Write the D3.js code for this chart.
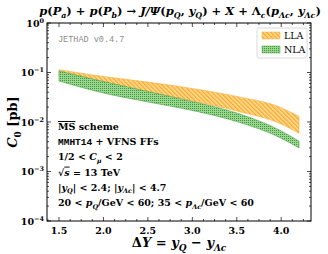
<!DOCTYPE html>
<html>
<head>
<meta charset="utf-8">
<script src="https://cdn.jsdelivr.net/npm/d3@7"></script>
<style>
  body { margin: 0; background: #fff; }
</style>
</head>
<body>
<div id="chart"></div>
<script>
// valori
var deltaY = [1.5, 2.0, 2.5, 3.0, 3.5, 4.0, 4.2];
var llaHigh = [0.114, 0.083, 0.064, 0.0475, 0.0328, 0.0195, 0.0130];
var llaLow  = [0.085, 0.0586, 0.0404, 0.0266, 0.0167, 0.0091, 0.0059];
var nlaHigh = [0.107, 0.0658, 0.0413, 0.026, 0.0152, 0.0066, 0.0041];
var nlaLow  = [0.0674, 0.0385, 0.0254, 0.0171, 0.0102, 0.0047, 0.0030];
var xTicks = [1.5, 2.0, 2.5, 3.0, 3.5, 4.0];
var yTicks = [1, 0.1, 0.01, 0.001, 0.0001];
var yTickExp = ["0", "\u22121", "\u22122", "\u22123", "\u22124"];

function drawChart() {
  var W = 328, H = 254;
  var mLeft = 47, mRight = 311, mTop = 23, mBottom = 221;
  var serif = "'DejaVu Serif', 'Liberation Serif', serif";
  var mono = "'Liberation Mono', 'DejaVu Sans Mono', monospace";

  var svg = d3.select("#chart").append("svg")
    .attr("width", W).attr("height", H)
    .attr("font-family", serif);

  var defs = svg.append("defs");
  var pLLA = defs.append("pattern").attr("id", "hatchLLA")
    .attr("patternUnits", "userSpaceOnUse").attr("width", 3).attr("height", 3)
    .attr("patternTransform", "rotate(-45)");
  pLLA.append("rect").attr("width", 3).attr("height", 3).attr("fill", "#ffdc9a");
  pLLA.append("rect").attr("width", 1.3).attr("height", 3).attr("fill", "#f7a823");

  var pNLA = defs.append("pattern").attr("id", "dotsNLA")
    .attr("patternUnits", "userSpaceOnUse").attr("width", 2).attr("height", 2);
  pNLA.append("rect").attr("width", 2).attr("height", 2).attr("fill", "#9bd58f");
  pNLA.append("rect").attr("width", 1).attr("height", 1).attr("fill", "#3c9a3c");

  var x = d3.scaleLinear().domain([1.365, 4.335]).range([mLeft, mRight]);
  var y = d3.scaleLog().domain([1e-4, 1]).range([mBottom, mTop]);

  // bande
  function band(lo, hi) {
    return d3.area()
      .x(function(d, i) { return x(deltaY[i]); })
      .y0(function(d, i) { return y(lo[i]); })
      .y1(function(d, i) { return y(hi[i]); })
      .curve(d3.curveMonotoneX)(deltaY);
  }
  svg.append("path").attr("d", band(llaLow, llaHigh))
    .attr("fill", "url(#hatchLLA)").attr("stroke", "#f7b03c").attr("stroke-width", 0.6);
  svg.append("path").attr("d", band(nlaLow, nlaHigh))
    .attr("fill", "url(#dotsNLA)").attr("stroke", "#4ea84e").attr("stroke-width", 0.6);

  // cornice e tacche
  svg.append("rect").attr("x", mLeft).attr("y", mTop)
    .attr("width", mRight - mLeft).attr("height", mBottom - mTop)
    .attr("fill", "none").attr("stroke", "#000").attr("stroke-width", 1);

  var ticks = svg.append("g").attr("stroke", "#000").attr("stroke-width", 0.7);
  d3.range(1.375, 4.34, 0.125).forEach(function(v) {
    var major = xTicks.some(function(t) { return Math.abs(t - v) < 1e-6; });
    var len = major ? 4 : 2;
    ticks.append("line").attr("x1", x(v)).attr("x2", x(v)).attr("y1", mBottom).attr("y2", mBottom - len);
    ticks.append("line").attr("x1", x(v)).attr("x2", x(v)).attr("y1", mTop).attr("y2", mTop + len);
  });
  yTicks.forEach(function(v) {
    ticks.append("line").attr("x1", mLeft).attr("x2", mLeft + 4).attr("y1", y(v)).attr("y2", y(v));
    ticks.append("line").attr("x1", mRight).attr("x2", mRight - 4).attr("y1", y(v)).attr("y2", y(v));
  });
  [1e-4, 1e-3, 1e-2, 1e-1].forEach(function(d) {
    for (var k = 2; k < 10; k++) {
      var yy = y(d * k);
      ticks.append("line").attr("x1", mLeft).attr("x2", mLeft + 2).attr("y1", yy).attr("y2", yy);
      ticks.append("line").attr("x1", mRight).attr("x2", mRight - 2).attr("y1", yy).attr("y2", yy);
    }
  });

  // testo con pedici / apici
  function rich(el, parts, fs) {
    var off = 0;
    parts.forEach(function(p) {
      var kind = p[1] || "n";
      var target = kind === "sub" ? fs * 0.28 : kind === "sup" ? -fs * 0.42 : 0;
      var ts = el.append("tspan").attr("dy", target - off).text(p[0]);
      if (kind !== "n") ts.attr("font-size", fs * 0.68);
      if (p[2]) ts.attr("font-style", p[2]);
      if (p[3]) ts.attr("font-family", p[3]);
      if (p[4]) ts.attr("text-decoration", p[4]);
      off = target;
    });
  }

  // etichette assi
  xTicks.forEach(function(v) {
    svg.append("text").attr("x", x(v)).attr("y", 234).attr("text-anchor", "middle")
      .attr("font-size", 9.5).attr("font-weight", "bold").text(v.toFixed(1));
  });
  yTicks.forEach(function(v, i) {
    var t = svg.append("text").attr("x", 44).attr("y", y(v) + 3.5).attr("text-anchor", "end")
      .attr("font-size", 9.5).attr("font-weight", "bold");
    rich(t, [["10"], [yTickExp[i], "sup"]], 9.5);
  });

  var yl = svg.append("text").attr("transform", "translate(17," + ((mTop + mBottom) / 2) + ") rotate(-90)")
    .attr("text-anchor", "middle").attr("font-size", 13).attr("font-weight", "bold");
  rich(yl, [["C", "n", "italic"], ["0", "sub"], [" [pb]"]], 13);

  var xl = svg.append("text").attr("x", (mLeft + mRight) / 2).attr("y", 247)
    .attr("text-anchor", "middle").attr("font-size", 13).attr("font-weight", "bold");
  rich(xl, [["\u0394"], ["Y", "n", "italic"], [" = "], ["y", "n", "italic"], ["Q", "sub", "italic"],
    [" \u2212 "], ["y", "n", "italic"], ["\u039bc", "sub", "italic"]], 13);

  var title = svg.append("text").attr("x", 180).attr("y", 15)
    .attr("text-anchor", "middle").attr("font-size", 11.5).attr("font-weight", "bold");
  rich(title, [["p", "n", "italic"], ["("], ["P", "n", "italic"], ["a", "sub", "italic"],
    [") + "], ["p", "n", "italic"], ["("], ["P", "n", "italic"], ["b", "sub", "italic"],
    [") \u2192 "], ["J/\u03a8", "n", "italic"], ["("], ["p", "n", "italic"], ["Q", "sub", "italic"],
    [", "], ["y", "n", "italic"], ["Q", "sub", "italic"], [") + "], ["X", "n", "italic"],
    [" + \u039b"], ["c", "sub", "italic"], ["("], ["p", "n", "italic"], ["\u039bc", "sub", "italic"],
    [", "], ["y", "n", "italic"], ["\u039bc", "sub", "italic"], [")"]], 11.5);

  // legenda
  var lg = svg.append("g");
  lg.append("rect").attr("x", 257).attr("y", 28).attr("width", 50).attr("height", 30)
    .attr("rx", 2).attr("fill", "#fff").attr("stroke", "#d0d0d0").attr("stroke-width", 0.8);
  lg.append("rect").attr("x", 262).attr("y", 32).attr("width", 18).attr("height", 7)
    .attr("fill", "url(#hatchLLA)").attr("stroke", "#f7b03c").attr("stroke-width", 0.5);
  lg.append("rect").attr("x", 262).attr("y", 46).attr("width", 18).attr("height", 7)
    .attr("fill", "url(#dotsNLA)").attr("stroke", "#4ea84e").attr("stroke-width", 0.5);
  lg.append("text").attr("x", 284).attr("y", 39).attr("font-size", 9.5).text("LLA");
  lg.append("text").attr("x", 284).attr("y", 53).attr("font-size", 9.5).text("NLA");

  // annotazioni
  svg.append("text").attr("x", 58).attr("y", 42).attr("font-size", 8.5)
    .attr("font-family", mono).attr("fill", "#8c8c8c").text("JETHAD v0.4.7");

  var lines = [
    [["MS", "n", null, null, "overline"], [" scheme"]],
    [["MMHT14", "n", null, mono], [" + VFNS FFs"]],
    [["1/2 < "], ["C", "n", "italic"], ["\u03bc", "sub", "italic"], [" < 2"]],
    [["\u221a"], ["s", "n", "italic", null, "overline"], [" = 13 TeV"]],
    [["|"], ["y", "n", "italic"], ["Q", "sub", "italic"], ["| < 2.4;  |"], ["y", "n", "italic"],
     ["\u039bc", "sub", "italic"], ["| < 4.7"]],
    [["20 < "], ["p", "n", "italic"], ["Q", "sub", "italic"], ["/GeV < 60; 35 < "], ["p", "n", "italic"],
     ["\u039bc", "sub", "italic"], ["/GeV < 60"]]
  ];
  lines.forEach(function(parts, i) {
    var t = svg.append("text").attr("x", 58).attr("y", 130 + i * 15.2)
      .attr("font-size", 9.5).attr("font-weight", "bold");
    rich(t, parts, 9.5);
  });
}

document.addEventListener("DOMContentLoaded", function() {
  drawChart();
});
</script>
</body>
</html>
